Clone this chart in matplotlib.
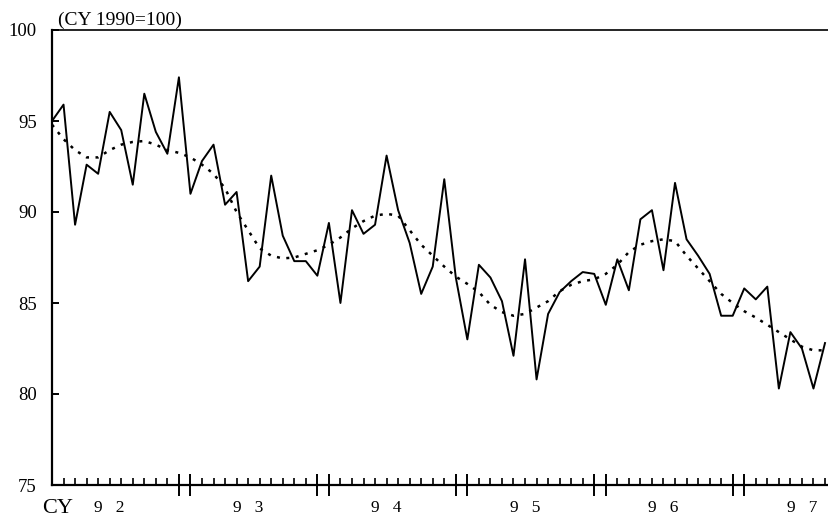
import numpy as np
import matplotlib
matplotlib.use("Agg")
import matplotlib.pyplot as plt

# monthly index, Jan 1992 - Aug 1997
actual = [95.0, 95.9, 89.3, 92.6, 92.1, 95.5, 94.5, 91.5, 96.5, 94.4, 93.2, 97.4,
          91.0, 92.8, 93.7, 90.4, 91.1, 86.2, 87.0, 92.0, 88.7, 87.3, 87.3, 86.5,
          89.4, 85.0, 90.1, 88.8, 89.3, 93.1, 90.1, 88.3, 85.5, 87.0, 91.8, 86.4,
          83.0, 87.1, 86.4, 85.1, 82.1, 87.4, 80.8, 84.4, 85.6, 86.2, 86.7, 86.6,
          84.9, 87.4, 85.7, 89.6, 90.1, 86.8, 91.6, 88.5, 87.6, 86.6, 84.3, 84.3,
          85.8, 85.2, 85.9, 80.3, 83.4, 82.5, 80.3, 82.8]
trend = [94.8, 94.0, 93.4, 93.0, 93.0, 93.4, 93.7, 93.85, 93.9, 93.7, 93.4, 93.25,
         93.0, 92.6, 92.1, 91.3, 90.0, 89.0, 88.0, 87.6, 87.45, 87.5, 87.7, 87.9,
         88.2, 88.6, 89.1, 89.5, 89.8, 89.9, 89.8, 89.0, 88.2, 87.6, 87.0, 86.45,
         86.05, 85.6, 84.9, 84.5, 84.3, 84.4, 84.75, 85.1, 85.65, 86.0, 86.2, 86.3,
         86.6, 87.1, 87.8, 88.2, 88.4, 88.5, 88.4, 87.6, 86.9, 86.2, 85.5, 85.0,
         84.55, 84.2, 83.8, 83.4, 83.0, 82.6, 82.4, 82.4]
year_labels = ["9   2", "9   3", "9   4", "9   5", "9   6", "9   7"]
y_ticks = [75, 80, 85, 90, 95, 100]

serif = ["Liberation Serif", "DejaVu Serif"]
x = np.arange(len(actual))

fig = plt.figure(figsize=(8.29, 5.17), dpi=100)
ax = fig.add_axes([52 / 829, 32 / 517, 777 / 829, 455 / 517])

ax.plot(x, actual, color="black", lw=1.4)
ax.plot(x, trend, color="black", lw=1.8, linestyle=(0, (1.2, 2.6)))

ax.set_xlim(0, len(actual) - 1 + 4 / 11.54)
ax.set_ylim(75, 100)

ax.spines["right"].set_visible(False)
ax.spines["left"].set_linewidth(1.6)
ax.spines["bottom"].set_linewidth(1.6)
ax.spines["top"].set_linewidth(1.2)

ax.set_yticks(y_ticks)
ax.set_yticklabels([str(v) for v in y_ticks], fontfamily=serif, fontsize=13.5)
ax.tick_params(axis="y", direction="in", length=5, width=1.4, pad=11)

# month ticks, with long ticks at Dec / Jan
boundary = [i for i in x if i % 12 in (0, 11) and i != 0]
minor = [i for i in x if i not in boundary]
ax.set_xticks(boundary)
ax.set_xticks(minor, minor=True)
ax.tick_params(axis="x", which="major", direction="inout", length=16, width=1.4,
               labelbottom=False)
ax.tick_params(axis="x", which="minor", direction="in", length=5, width=1.2)

for k, lab in enumerate(year_labels):
    ax.text(12 * k + 5, -0.033, lab, transform=ax.get_xaxis_transform(),
            ha="center", va="top", fontfamily=serif, fontsize=12.5)
ax.text(-0.013, -0.03, "CY", transform=ax.transAxes, ha="left", va="top",
        fontfamily=serif, fontsize=16)
ax.text(0.008, 1.003, "(CY 1990=100)", transform=ax.transAxes, ha="left",
        va="bottom", fontfamily=serif, fontsize=14)

fig.savefig("out.png", dpi=100)
